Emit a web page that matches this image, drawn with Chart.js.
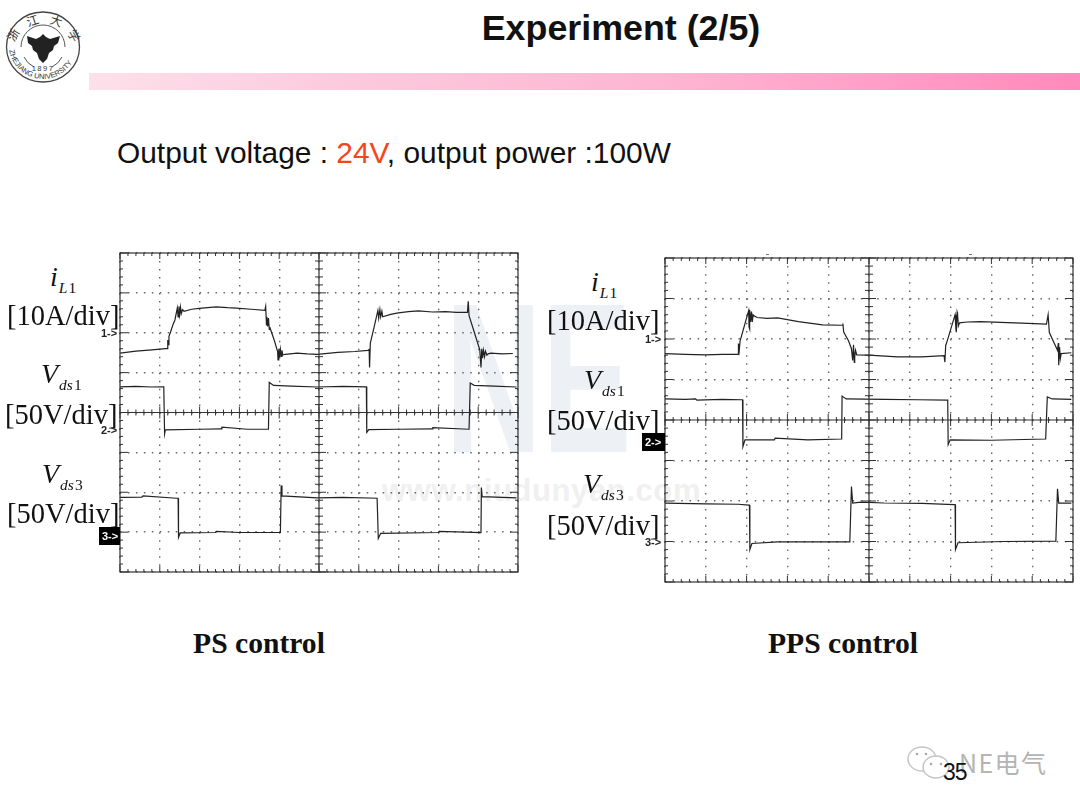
<!DOCTYPE html>
<html>
<head>
<meta charset="utf-8">
<script src="https://cdn.jsdelivr.net/npm/chart.js@4"></script>
<style>
html, body { margin: 0; padding: 0; background: #fff; }
#page { position: relative; width: 1080px; height: 810px; overflow: hidden; background: #fff; }
#page > * { position: absolute; }
.sans { font-family: "Liberation Sans", Arial, sans-serif; color: #111; white-space: nowrap; }
.serif { font-family: "Liberation Serif", "Times New Roman", serif; color: #111; white-space: nowrap; }
.lbl { font-size: 28.5px; line-height: 32px; }
.sym { font-size: 28px; line-height: 32px; font-style: italic; }
.sym sub { font-size: 15.5px; vertical-align: -7px; line-height: 0; margin-left: 1px; }
.sym sub span { font-style: normal; margin-left: 1px; }
.tag { font: bold 11px "Liberation Sans", sans-serif; color: #222; line-height: 13px; }
.tag.on { background: #000; color: #fff; padding: 3px 1px 2px 3px; }
canvas { position: absolute; }
</style>
</head>
<body>
<div id="page">
  <svg style="left:440px;top:295px" width="210" height="170" viewBox="0 0 210 170">
    <text x="0" y="0" transform="translate(5,157) scale(0.63,1)" font-family="Liberation Sans" font-weight="bold" font-size="213" fill="#edf0f5">NE</text>
  </svg>
  <div style="left:382px;top:474px;font:bold 31px/34px 'Liberation Sans',sans-serif;color:#f0f0f0;letter-spacing:.6px">www.niudunyan.com</div>

  <svg style="left:3px;top:9px" width="80" height="76" viewBox="0 0 80 76">
    <defs>
      <path id="ringBot" d="M6 36 A33 33 0 0 0 74 36"/>
    </defs>
    <ellipse cx="40" cy="38" rx="36.5" ry="35" fill="none" stroke="#444" stroke-width="1.3"/>
    <path d="M18 38 A22 22 0 0 1 62 38 M21 48 A22 22 0 0 0 31 58 M49 58 A22 22 0 0 0 59 48" fill="none" stroke="#555" stroke-width="1"/>
    <g font-family="Noto Sans CJK SC" font-size="12" fill="#333" text-anchor="middle">
      <text transform="translate(14,28) rotate(-60)">浙</text>
      <text transform="translate(31,16) rotate(-18)">江</text>
      <text transform="translate(52,16) rotate(18)">大</text>
      <text transform="translate(67,29) rotate(60)">学</text>
    </g>
    <text font-family="Liberation Sans" font-size="7.4" fill="#333"><textPath href="#ringBot" startOffset="5%">ZHEJIANG UNIVERSITY</textPath></text>
    <path d="M24 27 L33 30 L37 28 L40 25 L43 28 L47 30 L57 27 L55 34 L51 37 L50 41 L46 44 L44 50 L40 54 L36 50 L34 44 L30 41 L29 37 L25 34 Z" fill="#222"/>
    <text x="40" y="62" text-anchor="middle" font-family="Liberation Sans" font-size="7.5" fill="#333" letter-spacing="1.5">1897</text>
  </svg>

  <div style="left:89px;top:73px;width:991px;height:17px;background:linear-gradient(90deg,#fde0ea 0%,#fcc8dc 28%,#feb4d0 60%,#ffa9cc 70%,#ff8abb 100%)"></div>
  <div class="sans" style="left:321px;width:600px;top:8px;text-align:center;font-weight:bold;font-size:35.8px;line-height:40px">Experiment (2/5)</div>
  <div class="sans" style="left:117px;top:135px;font-size:29.9px;line-height:36px">Output voltage : <span style="color:#f2461c">24V</span>, output power :100W</div>

  <div style="left:766px;top:254px;width:3px;height:1px;background:#777"></div>
  <div style="left:969px;top:254px;width:3px;height:1px;background:#777"></div>

  <canvas id="psChart" style="left:114px;top:247px" width="410" height="331"></canvas>
  <canvas id="ppsChart" style="left:659px;top:252px" width="420" height="336"></canvas>

  <div class="serif sym" style="left:50px;top:261px">i<sub>L<span>1</span></sub></div>
  <div class="serif lbl" style="left:7px;top:300px">[10A/div]</div>
  <div class="serif sym" style="left:41px;top:358px">V<sub>ds<span>1</span></sub></div>
  <div class="serif lbl" style="left:5px;top:399px">[50V/div]</div>
  <div class="serif sym" style="left:42px;top:458px">V<sub>ds<span>3</span></sub></div>
  <div class="serif lbl" style="left:7px;top:498px">[50V/div]</div>
  <div class="tag" style="left:101px;top:327px">1-&gt;</div>
  <div class="tag" style="left:101px;top:424px">2-&gt;</div>
  <div class="tag on" style="left:99px;top:527px;width:17px">3-&gt;</div>

  <div class="serif sym" style="left:591px;top:266px">i<sub>L<span>1</span></sub></div>
  <div class="serif lbl" style="left:547px;top:305px">[10A/div]</div>
  <div class="serif sym" style="left:584px;top:364px">V<sub>ds<span>1</span></sub></div>
  <div class="serif lbl" style="left:547px;top:405px">[50V/div]</div>
  <div class="serif sym" style="left:583px;top:468px">V<sub>ds<span>3</span></sub></div>
  <div class="serif lbl" style="left:547px;top:510px">[50V/div]</div>
  <div class="tag" style="left:645px;top:333px">1-&gt;</div>
  <div class="tag on" style="left:642px;top:433px;width:19px">2-&gt;</div>
  <div class="tag" style="left:645px;top:536px">3-&gt;</div>

  <div class="serif" style="left:109px;width:300px;top:625px;text-align:center;font-weight:bold;font-size:29.6px;line-height:36px">PS control</div>
  <div class="serif" style="left:693px;width:300px;top:625px;text-align:center;font-weight:bold;font-size:29.6px;line-height:36px">PPS control</div>

  <svg style="left:905px;top:742px" width="70" height="40" viewBox="0 0 70 40">
    <ellipse cx="17" cy="17" rx="14" ry="12" fill="#fff" stroke="#c4c4c4" stroke-width="1.5"/>
    <ellipse cx="31" cy="25" rx="13" ry="11" fill="#fff" stroke="#c4c4c4" stroke-width="1.5"/>
    <circle cx="26" cy="22" r="1.3" fill="#aaa"/><circle cx="36" cy="22" r="1.3" fill="#aaa"/>
    <circle cx="12" cy="12" r="1.3" fill="#aaa"/><circle cx="21" cy="12" r="1.3" fill="#aaa"/>
  </svg>
  <div style="left:959px;top:748px;font:25px/28px 'Noto Sans CJK SC','Noto Sans',sans-serif;color:#b4b4b4;letter-spacing:1.4px">NE电气</div>
  <div class="sans" style="left:943px;top:759px;font-size:23px;line-height:26px;letter-spacing:-1px">35</div>
</div>

<script>
// x and y are in scope divisions: x 0..10 from the left, y -4..4 around the centre line
const psCurrentX = [0,0.4,0.8,1.14,1.19,1.20,1.21,1.23,1.27,1.33,1.38,1.44,1.46,1.48,1.50,1.52,1.54,1.57,1.61,1.80,1.99,2.20,2.42,2.70,2.92,3.30,3.64,3.66,3.68,3.69,3.71,3.73,3.75,3.77,3.88,3.96,3.97,3.99,4.01,4.03,4.05,4.07,4.09,4.15,4.45,4.70,4.96,5.47,5.90,6.23,6.26,6.27,6.29,6.38,6.48,6.50,6.53,6.55,6.58,6.60,6.80,6.99,7.25,7.50,7.85,8.18,8.45,8.73,8.75,8.77,8.90,9.04,9.07,9.09,9.11,9.13,9.16,9.18,9.22,9.25,9.32,9.60,9.87];
const psCurrentY = [1.49,1.54,1.57,1.60,1.60,1.82,1.70,1.91,2.02,2.20,2.32,2.62,2.40,2.66,2.46,2.64,2.48,2.58,2.54,2.59,2.61,2.63,2.65,2.63,2.62,2.59,2.56,2.66,2.20,2.40,2.16,2.37,2.10,2.12,1.80,1.53,1.32,1.60,1.38,1.58,1.41,1.56,1.44,1.46,1.49,1.47,1.46,1.51,1.53,1.56,1.58,1.13,1.74,2.12,2.56,2.37,2.58,2.40,2.54,2.40,2.46,2.50,2.53,2.55,2.52,2.53,2.51,2.51,2.79,2.43,2.02,1.57,1.13,1.60,1.36,1.56,1.40,1.54,1.44,1.47,1.49,1.47,1.48];
const psVds1X = [0,0.4,0.8,1.08,1.10,1.12,1.14,2.00,2.54,2.56,3.20,3.73,3.75,3.86,4.30,4.96,5.60,6.17,6.19,6.20,6.25,7.00,7.84,7.86,8.77,8.80,8.90,9.40,9.96];
const psVds1Y = [0.645,0.655,0.64,0.645,0.645,-0.536,-0.436,-0.42,-0.41,-0.37,-0.42,-0.42,0.754,0.68,0.66,0.64,0.655,0.645,0.645,-0.50,-0.43,-0.42,-0.41,-0.38,-0.42,0.74,0.68,0.66,0.64];
const psVds3X = [0,0.55,0.58,1.42,1.46,1.47,1.51,2.40,2.42,3.00,4.03,4.05,4.07,4.96,5.60,6.46,6.48,6.49,6.55,8.00,8.02,9.07,9.08,9.10,9.96];
const psVds3Y = [-2.13,-2.12,-2.09,-2.15,-2.15,-3.13,-3.02,-3.01,-2.98,-3.01,-3.01,-1.83,-2.09,-2.14,-2.13,-2.15,-2.15,-3.16,-3.03,-3.01,-2.98,-3.01,-1.88,-2.11,-2.14];

const ppsCurrentX = [0,0.50,0.99,1.40,1.79,1.80,1.82,1.84,2.05,2.06,2.07,2.08,2.10,2.12,2.14,2.16,2.19,2.26,2.50,2.76,3.27,3.86,4.34,4.36,4.38,4.50,4.57,4.60,4.62,4.64,4.65,4.67,4.70,4.99,5.70,6.30,6.84,6.86,6.88,6.92,7.11,7.13,7.14,7.16,7.17,7.19,7.22,7.40,7.73,8.74,9.35,9.39,9.42,9.62,9.64,9.65,9.67,9.69,9.71,9.96];
const ppsCurrentY = [1.64,1.62,1.61,1.62,1.62,1.89,1.72,1.95,2.70,2.30,2.25,2.72,2.42,2.68,2.42,2.60,2.57,2.53,2.51,2.52,2.43,2.35,2.34,2.38,2.17,1.95,1.76,1.47,1.86,1.42,1.56,1.72,1.61,1.60,1.56,1.56,1.59,1.43,1.84,1.96,2.60,2.24,2.17,2.66,2.62,2.32,2.40,2.42,2.43,2.39,2.37,2.60,2.16,1.72,1.90,1.35,1.80,1.52,1.64,1.66];
const ppsVds1X = [0,0.50,0.75,0.78,1.40,1.88,1.90,1.91,1.96,2.68,2.70,3.50,4.33,4.34,4.44,5.37,6.20,6.91,6.93,6.94,6.99,8.00,9.33,9.37,9.49,9.96];
const ppsVds1Y = [0.52,0.51,0.52,0.49,0.51,0.50,0.50,-0.66,-0.49,-0.49,-0.45,-0.49,-0.47,0.59,0.52,0.51,0.50,0.49,0.49,-0.61,-0.49,-0.50,-0.47,0.57,0.52,0.51];
const ppsVds3X = [0,1.00,1.80,2.05,2.07,2.08,2.13,2.76,3.50,4.53,4.57,4.60,4.80,5.37,6.30,7.08,7.11,7.12,7.18,8.30,9.58,9.62,9.65,9.96];
const ppsVds3Y = [-2.05,-2.07,-2.08,-2.10,-2.10,-3.20,-3.05,-3.01,-3.01,-3.01,-1.64,-2.05,-2.03,-2.05,-2.06,-2.09,-2.09,-3.20,-3.03,-3.00,-2.99,-1.70,-2.05,-2.05];

const traceColor = "#222222";
const gridDotColor = "#666666";

function toPoints(xs, ys) {
    return xs.map((x, i) => ({ x: x, y: ys[i] }));
}

// centre cross, frame and the little division ticks of the scope screen
const scopeMarks = {
    id: "scopeMarks",
    afterDatasetsDraw(chart) {
        const { ctx, chartArea: a, scales: { x, y } } = chart;
        const cx = x.getPixelForValue(5), cy = y.getPixelForValue(0);
        ctx.save();
        ctx.strokeStyle = "#333333";
        ctx.lineWidth = 1.2;
        ctx.strokeRect(a.left, a.top, a.right - a.left, a.bottom - a.top);
        ctx.beginPath();
        ctx.moveTo(cx, a.top); ctx.lineTo(cx, a.bottom);
        ctx.moveTo(a.left, cy); ctx.lineTo(a.right, cy);
        ctx.stroke();
        ctx.lineWidth = 1;
        ctx.beginPath();
        for (let i = 0; i <= 50; i++) {
            const px = x.getPixelForValue(i / 5);
            const len = i % 5 === 0 ? 6 : 3;
            ctx.moveTo(px, a.top); ctx.lineTo(px, a.top + len);
            ctx.moveTo(px, a.bottom); ctx.lineTo(px, a.bottom - len);
            ctx.moveTo(px, cy - len); ctx.lineTo(px, cy + len);
        }
        for (let i = -20; i <= 20; i++) {
            const py = y.getPixelForValue(i / 5);
            const len = i % 5 === 0 ? 8 : 3;
            ctx.moveTo(a.left, py); ctx.lineTo(a.left + len, py);
            ctx.moveTo(a.right, py); ctx.lineTo(a.right - len, py);
            ctx.moveTo(cx - (i % 5 === 0 ? 7 : 4), py); ctx.lineTo(cx + (i % 5 === 0 ? 7 : 4), py);
        }
        ctx.stroke();
        ctx.restore();
    }
};

function scopeChart(id, traces, dotX, dotY) {
    const ctx = document.getElementById(id).getContext("2d");
    return new Chart(ctx, {
        type: "scatter",
        data: {
            datasets: traces.map(t => ({
                label: t.name,
                data: t.points,
                showLine: true,
                borderColor: traceColor,
                borderWidth: 1.2,
                pointRadius: 0,
                tension: 0
            }))
        },
        options: {
            responsive: false,
            animation: false,
            layout: { padding: 6 },
            plugins: { legend: { display: false }, tooltip: { enabled: false } },
            scales: {
                x: {
                    type: "linear", min: 0, max: 10,
                    ticks: { stepSize: 1, display: false },
                    grid: { color: gridDotColor, lineWidth: 1.4, drawTicks: false },
                    border: { display: false, dash: [1.5, dotY - 1.5] }
                },
                y: {
                    type: "linear", min: -4, max: 4,
                    ticks: { stepSize: 1, display: false },
                    grid: { color: gridDotColor, lineWidth: 1.4, drawTicks: false },
                    border: { display: false, dash: [1.5, dotX - 1.5] }
                }
            }
        },
        plugins: [scopeMarks]
    });
}

scopeChart("psChart", [
    { name: "iL1", points: toPoints(psCurrentX, psCurrentY) },
    { name: "Vds1", points: toPoints(psVds1X, psVds1Y) },
    { name: "Vds3", points: toPoints(psVds3X, psVds3Y) }
], 7.96, 7.98);

scopeChart("ppsChart", [
    { name: "iL1", points: toPoints(ppsCurrentX, ppsCurrentY) },
    { name: "Vds1", points: toPoints(ppsVds1X, ppsVds1Y) },
    { name: "Vds3", points: toPoints(ppsVds3X, ppsVds3Y) }
], 8.16, 8.1);
</script>
</body>
</html>
